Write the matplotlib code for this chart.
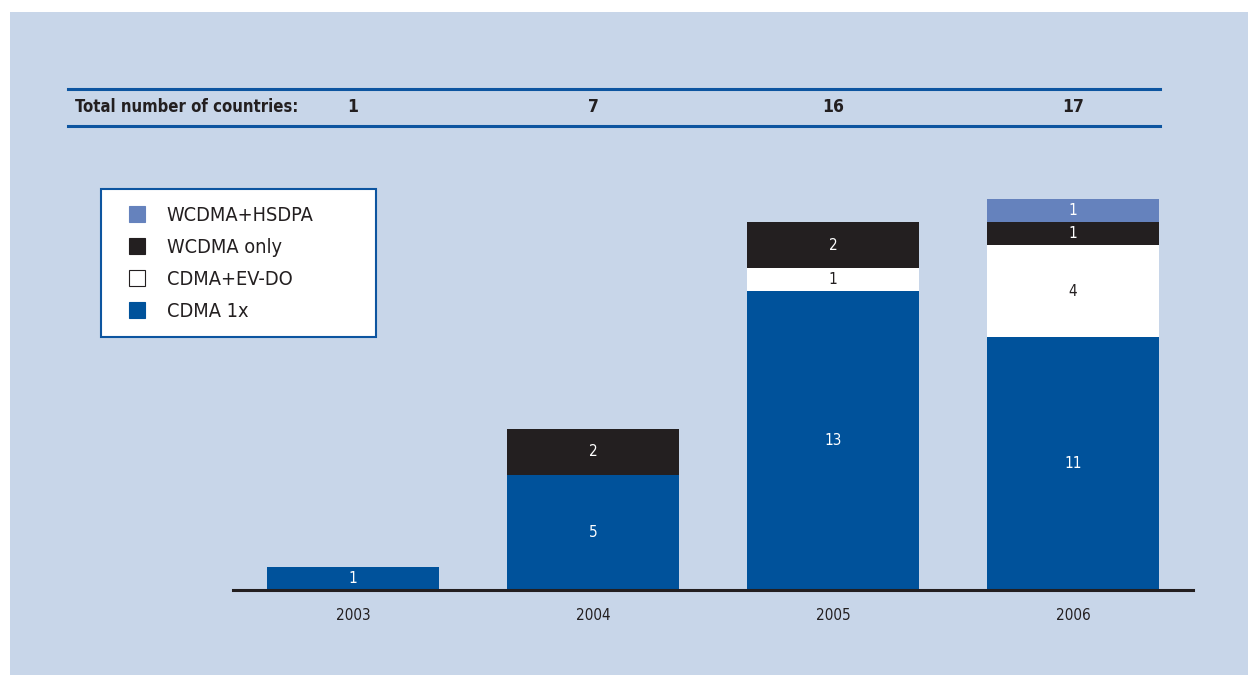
import matplotlib.pyplot as plt
import matplotlib.transforms as mtransforms
from matplotlib.patches import Rectangle
from matplotlib.lines import Line2D
import numpy as np

years = ['2003', '2004', '2005', '2006']
series = ['CDMA 1x', 'CDMA+EV-DO', 'WCDMA only', 'WCDMA+HSDPA']
cdma_1x = [1, 5, 13, 11]
cdma_evdo = [0, 0, 1, 4]
wcdma_only = [0, 2, 2, 1]
wcdma_hsdpa = [0, 0, 0, 1]
totals = [1, 7, 16, 17]

colors = {'CDMA 1x': '#00529b', 'CDMA+EV-DO': '#ffffff',
          'WCDMA only': '#231f20', 'WCDMA+HSDPA': '#6582bd'}
txt_colors = {'CDMA 1x': 'white', 'CDMA+EV-DO': '#231f20',
              'WCDMA only': 'white', 'WCDMA+HSDPA': 'white'}
bg = '#c8d6e9'
line_blue = '#0d55a0'

plt.rcParams['font.family'] = ['DejaVu Sans']
plt.rcParams['font.stretch'] = 'condensed'

W, H = 1248, 675
f = plt.figure(figsize=(W / 100, H / 100), dpi=100, facecolor='white')
f.patches.append(Rectangle((10 / W, 0), 1, 1 - 12 / H, transform=f.transFigure,
                           facecolor=bg, edgecolor='none', zorder=-5))

# axes: x from 233 to 1193 px, baseline at 590 px, 23 px per country
ax_l, ax_r, ax_base, ax_top = 233, 1193, 590, 130
ax = f.add_axes([ax_l / W, (H - ax_base) / H, (ax_r - ax_l) / W, (ax_base - ax_top) / H])
ax.set_facecolor('none')
ax.set_xlim(-0.5, 3.5)
ax.set_ylim(0, (ax_base - ax_top) / 23)

x = np.arange(len(years))
stack = {'CDMA 1x': cdma_1x, 'CDMA+EV-DO': cdma_evdo,
         'WCDMA only': wcdma_only, 'WCDMA+HSDPA': wcdma_hsdpa}
bottom = np.zeros(len(years))
for name in series:
    vals = np.array(stack[name], dtype=float)
    ax.bar(x, vals, bottom=bottom, width=0.72, color=colors[name], edgecolor='none', zorder=2)
    for xi, b, v in zip(x, bottom, vals):
        if v > 0:
            ax.text(xi, b + v / 2, '{0:d}'.format(int(v)), ha='center', va='center',
                    fontsize=11, color=txt_colors[name], zorder=3)
    bottom += vals

for s in ['top', 'right', 'left']:
    ax.spines[s].set_visible(False)
ax.spines['bottom'].set_linewidth(2.2)
ax.spines['bottom'].set_color('#231f20')
ax.spines['bottom'].set_zorder(4)
ax.set_yticks([])
ax.set_xticks(x)
ax.set_xticklabels(years, fontsize=11, color='#231f20')
ax.tick_params(axis='x', length=0, pad=13)

# header row with totals
for yp in [89, 126]:
    f.add_artist(Line2D([68 / W, 1160 / W], [1 - yp / H, 1 - yp / H], transform=f.transFigure,
                        color=line_blue, lw=2.2))
f.text(75 / W, 1 - 107.5 / H, 'Total number of countries:', ha='left', va='center',
       fontsize=12, fontweight='bold', color='#231f20')
trans = mtransforms.blended_transform_factory(ax.transData, f.transFigure)
for xi, t in zip(x, totals):
    f.text(xi, 1 - 107.5 / H, '{0:d}'.format(t), ha='center', va='center', transform=trans,
           fontsize=12.5, fontweight='bold', color='#231f20')

# legend, top series first
handles = [Line2D([], [], ls='none', marker='s', markersize=11.5,
                  markerfacecolor=colors[n], markeredgecolor='#231f20' if n == 'CDMA+EV-DO' else colors[n],
                  markeredgewidth=0.8) for n in series[::-1]]
leg = f.legend(handles, series[::-1], loc='upper left',
               bbox_to_anchor=(101 / W, 1 - 339 / H, 275 / W, 150 / H), mode='expand',
               frameon=True, fancybox=False, framealpha=1, fontsize=14.3, labelspacing=0.65,
               handlelength=1.9, handletextpad=0.55, borderpad=0.85, borderaxespad=0)
leg.get_frame().set_edgecolor(line_blue)
leg.get_frame().set_linewidth(1.5)
leg.get_frame().set_facecolor('white')
for t in leg.get_texts():
    t.set_color('#231f20')

f.savefig('out.png', dpi=100, facecolor='white')
